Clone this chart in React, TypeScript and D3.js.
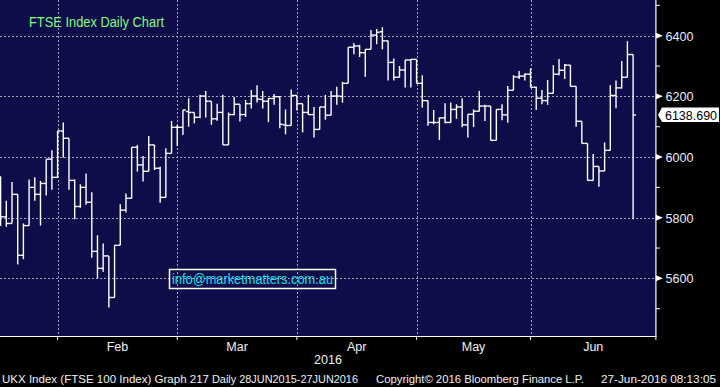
import React, { useEffect, useRef } from 'react';
import * as d3 from 'd3';

// FTSE 100 daily OHLC, 15 Jan 2016 - 24 Jun 2016 (one value per trading day)
const opens = [
  5918, 5803, 5781, 5877, 5676, 5774, 5900, 5877, 5913, 5993, 5933,
  6086, 6062, 5923, 5837, 5900, 5851, 5689, 5633, 5674, 5537, 5709, 5825, 5864, 6032, 5974, 5953, 6040, 5963, 5867, 6012, 6098,
  6098, 6150, 6147, 6131, 6201, 6184, 6126, 6147, 6040, 6140, 6174, 6140, 6176, 6201, 6190, 6184, 6193, 6199, 6106, 6104, 6203,
  6176, 6147, 6140, 6091, 6165, 6138, 6201, 6200, 6243, 6362, 6366, 6344, 6355, 6402, 6413, 6383, 6312, 6263, 6287, 6320, 6322,
  6243, 6186, 6114, 6114, 6129, 6114, 6157, 6165, 6106, 6141, 6151, 6168, 6168, 6055, 6157, 6139, 6220, 6264, 6267, 6273,
  6230, 6194, 6186, 6210, 6273, 6286, 6303, 6233, 6118, 6045, 5923, 5969, 5954, 6022, 6203, 6228, 6263, 6338,
];
const highs = [
  5937, 5856, 5918, 5877, 5781, 5926, 5933, 5921, 5993, 6022, 6086,
  6114, 6062, 5926, 5910, 5946, 5884, 5742, 5715, 5674, 5709, 5844, 5880, 6032, 6040, 6003, 6069, 6040, 5968, 6029, 6119, 6106,
  6155, 6194, 6147, 6205, 6218, 6184, 6176, 6205, 6147, 6198, 6174, 6188, 6221, 6237, 6218, 6194, 6208, 6201, 6157, 6223, 6203,
  6176, 6205, 6165, 6165, 6205, 6218, 6232, 6248, 6362, 6375, 6370, 6355, 6419, 6422, 6428, 6383, 6325, 6300, 6320, 6322, 6322,
  6270, 6186, 6155, 6131, 6177, 6180, 6174, 6194, 6141, 6157, 6218, 6172, 6168, 6157, 6174, 6234, 6270, 6284, 6276, 6292,
  6232, 6221, 6254, 6303, 6323, 6307, 6303, 6233, 6118, 6045, 6010, 5969, 6048, 6237, 6252, 6317, 6382, 6338,
];
const lows = [
  5773, 5770, 5781, 5646, 5663, 5774, 5856, 5774, 5873, 5892, 5933,
  5998, 5892, 5795, 5833, 5843, 5668, 5600, 5622, 5504, 5537, 5709, 5817, 5864, 5952, 5919, 5953, 5957, 5849, 5867, 6012, 6036,
  6073, 6100, 6111, 6128, 6130, 6106, 6120, 6040, 6040, 6138, 6117, 6132, 6160, 6180, 6160, 6115, 6172, 6095, 6075, 6104, 6153,
  6081, 6139, 6064, 6091, 6123, 6138, 6172, 6179, 6243, 6339, 6330, 6265, 6355, 6372, 6355, 6252, 6252, 6263, 6229, 6229, 6243,
  6163, 6103, 6108, 6056, 6111, 6113, 6126, 6098, 6064, 6099, 6150, 6119, 6055, 6055, 6121, 6113, 6220, 6257, 6252, 6230,
  6155, 6174, 6172, 6210, 6270, 6257, 6233, 6100, 6045, 5923, 5923, 5902, 5954, 6022, 6161, 6226, 6263, 5795,
];
const closes = [
  5803, 5781, 5877, 5676, 5774, 5900, 5877, 5913, 5993, 5933, 6086,
  6062, 5923, 5837, 5900, 5851, 5689, 5633, 5674, 5537, 5709, 5825, 5864, 6032, 5974, 5953, 6040, 5963, 5867, 6012, 6098, 6098,
  6155, 6147, 6131, 6201, 6184, 6126, 6147, 6040, 6140, 6174, 6140, 6176, 6201, 6191, 6184, 6193, 6199, 6108, 6104, 6203, 6176,
  6147, 6140, 6091, 6165, 6138, 6201, 6201, 6243, 6362, 6366, 6344, 6355, 6402, 6411, 6383, 6312, 6263, 6287, 6320, 6322, 6243,
  6186, 6114, 6114, 6129, 6114, 6157, 6165, 6106, 6141, 6151, 6168, 6168, 6055, 6157, 6139, 6220, 6264, 6267, 6273, 6230,
  6194, 6186, 6210, 6273, 6286, 6303, 6233, 6118, 6045, 5923, 5969, 5954, 6022, 6203, 6228, 6263, 6338, 6138.69,
];

const holidays = ['2016-03-25', '2016-03-28', '2016-05-02', '2016-05-30'];
const monthLabels = ['Feb', 'Mar', 'Apr', 'May', 'Jun'];
const labelTicks = [5600, 5800, 6000, 6200, 6400];
const minorTicks = [5500, 5700, 5900, 6100, 6300, 6500];
const yearLabel = '2016';
const title = 'FTSE Index Daily Chart';
const email = 'info@marketmatters.com.au';
const footer = [
  { text: 'UKX Index (FTSE 100 Index) Graph 217', x: 2, w: 207 },
  { text: 'Daily 28JUN2015-27JUN2016', x: 212, w: 146 },
  { text: 'Copyright\u00a9 2016 Bloomberg Finance L.P.', x: 376, w: 208 },
  { text: '27-Jun-2016 08:13:05', x: 601, w: 115 },
];

const fmt = d3.timeFormat('%Y-%m-%d');

const FtseChart = () => {
  const ref = useRef(null);

  useEffect(() => {
    const svg = d3.select(ref.current);
    svg.selectAll('*').remove();

    const W = 720, H = 387;
    const plotR = 655.9, plotB = 336;
    const font = "'Liberation Sans', Arial, sans-serif";

    // trading days, axis runs to the end of June
    const days = d3.timeDay
      .range(new Date(2016, 0, 15), new Date(2016, 6, 1))
      .filter(d => d.getDay() !== 0 && d.getDay() !== 6 && !holidays.includes(fmt(d)))
      .map(fmt);

    const x = d3.scalePoint().domain(days).range([0.6, plotR]);
    const y = d3.scaleLinear().domain([5410, 6517.7]).range([plotB, 0]);
    const half = x.step() / 2;

    svg.append('rect').attr('width', W).attr('height', H).attr('fill', '#000');
    svg.append('rect').attr('width', plotR).attr('height', plotB).attr('fill', '#0f0d49');

    // month boundaries = last trading day of each month
    const byMonth = d3.groups(days, d => d.slice(0, 7));
    const bounds = byMonth.slice(0, -1).map(g => x(g[1][g[1].length - 1]));
    const edges = [...bounds, plotR];

    const grid = svg.append('g').attr('stroke', '#a4a4b4').attr('stroke-dasharray', '2,2').attr('stroke-width', 1);
    labelTicks.forEach(v => {
      grid.append('line').attr('x1', 0).attr('x2', plotR).attr('y1', Math.round(y(v)) + 0.5).attr('y2', Math.round(y(v)) + 0.5);
    });
    bounds.forEach(bx => {
      grid.append('line').attr('x1', Math.round(bx) + 0.5).attr('x2', Math.round(bx) + 0.5).attr('y1', 0).attr('y2', plotB);
    });

    // OHLC bars
    const data = days.slice(0, closes.length).map((d, i) => ({
      d, o: opens[i], h: highs[i], l: lows[i], c: closes[i],
    }));
    const bars = svg.append('g').attr('stroke', '#fff').attr('stroke-width', 1.4).attr('fill', 'none');
    data.forEach(b => {
      const bx = x(b.d);
      bars.append('line').attr('x1', bx).attr('x2', bx).attr('y1', y(b.h)).attr('y2', y(b.l));
      bars.append('line').attr('x1', bx - half).attr('x2', bx).attr('y1', y(b.o)).attr('y2', y(b.o));
      bars.append('line').attr('x1', bx).attr('x2', bx + half).attr('y1', y(b.c)).attr('y2', y(b.c));
    });

    // axes
    svg.append('line').attr('x1', plotR).attr('x2', plotR).attr('y1', 0).attr('y2', plotB + 1)
      .attr('stroke', '#fff').attr('stroke-width', 1.2);
    svg.append('line').attr('x1', 0).attr('x2', plotR).attr('y1', plotB + 0.5).attr('y2', plotB + 0.5)
      .attr('stroke', '#fff').attr('stroke-width', 1.2);
    edges.forEach(ex => {
      svg.append('line').attr('x1', ex).attr('x2', ex).attr('y1', plotB).attr('y2', plotB + 4)
        .attr('stroke', '#fff').attr('stroke-width', 1);
    });
    minorTicks.forEach(v => {
      svg.append('line').attr('x1', plotR).attr('x2', plotR + 4).attr('y1', y(v)).attr('y2', y(v))
        .attr('stroke', '#fff').attr('stroke-width', 1);
    });
    labelTicks.forEach(v => {
      const ty = y(v);
      svg.append('path').attr('d', `M${plotR},${ty - 3}L${plotR + 7},${ty}L${plotR},${ty + 3}Z`).attr('fill', '#fff');
      svg.append('text').attr('x', 665.5).attr('y', ty + 5).text(v)
        .attr('fill', '#e6ecff').attr('font-family', font).attr('font-size', 13.5)
        .attr('textLength', 28).attr('lengthAdjust', 'spacingAndGlyphs');
    });

    monthLabels.forEach((m, i) => {
      svg.append('text').attr('x', (edges[i] + edges[i + 1]) / 2).attr('y', 351).attr('text-anchor', 'middle').text(m)
        .attr('fill', '#f0f0f0').attr('font-family', font).attr('font-size', 12.5);
    });
    svg.append('text').attr('x', 328).attr('y', 363.5).attr('text-anchor', 'middle').text(yearLabel)
      .attr('fill', '#f0f0f0').attr('font-family', font).attr('font-size', 12.5);

    footer.forEach(f => {
      svg.append('text').attr('x', f.x).attr('y', 383).text(f.text)
        .attr('fill', '#f0f0f0').attr('font-family', font).attr('font-size', 11.5)
        .attr('textLength', f.w).attr('lengthAdjust', 'spacingAndGlyphs');
    });

    // last price tag
    const last = closes[closes.length - 1];
    const ly = y(last);
    svg.append('path')
      .attr('d', `M658,${ly}L662,${ly - 7.5}L719,${ly - 7.5}L719,${ly + 7}L662,${ly + 7}Z`)
      .attr('fill', '#fff');
    svg.append('text').attr('x', 665).attr('y', ly + 4.8).text(last.toFixed(3))
      .attr('fill', '#000').attr('font-family', font).attr('font-size', 13.5)
      .attr('textLength', 52).attr('lengthAdjust', 'spacingAndGlyphs');

    // title and contact box
    svg.append('text').attr('x', 29).attr('y', 27).text(title)
      .attr('fill', '#80fb80').attr('font-family', font).attr('font-size', 14)
      .attr('textLength', 135).attr('lengthAdjust', 'spacingAndGlyphs');
    svg.append('rect').attr('x', 169.5).attr('y', 269.5).attr('width', 166).attr('height', 19)
      .attr('fill', 'none').attr('stroke', '#fff').attr('stroke-width', 1.5);
    svg.append('text').attr('x', 172).attr('y', 284).text(email)
      .attr('fill', '#12e0ee').attr('font-family', font).attr('font-size', 14)
      .attr('textLength', 161).attr('lengthAdjust', 'spacingAndGlyphs');
  }, []);

  return <svg ref={ref} width="720" height="387" style={{ position: 'absolute', left: 0, top: 0 }}></svg>;
};

export default function App() {
  return <FtseChart />;
}
